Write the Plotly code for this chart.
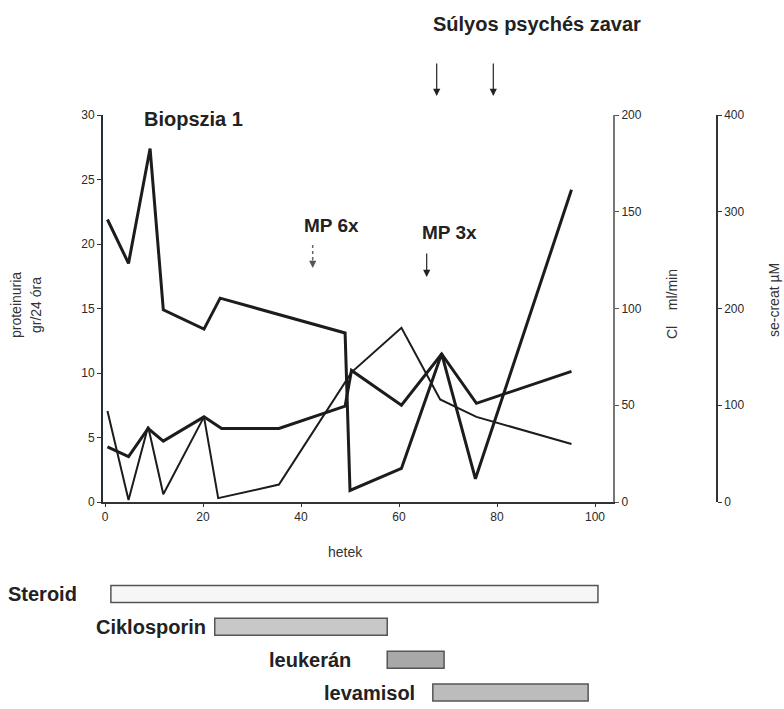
import plotly.graph_objects as go

# ---------------- data ----------------
weeks_protein = [0.5, 4.8, 9.2, 11.9, 20.2, 23.5, 49.0, 50.0, 60.5, 68.7, 75.6, 95.2]
proteinuria = [21.9, 18.5, 27.4, 14.9, 13.4, 15.8, 13.1, 0.9, 2.6, 11.5, 1.8, 24.2]   # gr/24 óra

weeks_clearance = [0.5, 4.8, 8.8, 11.9, 20.2, 23.1, 35.5, 50.3, 60.5, 68.4, 75.8, 95.2]
clearance = [47, 1, 39, 4, 44, 2, 9, 67, 90, 53, 44, 30]                               # ml/min

weeks_creat = [0.5, 4.8, 8.8, 11.9, 20.2, 23.8, 35.5, 49.0, 50.3, 60.5, 68.7, 75.8, 95.2]
creatinine = [57, 47, 76, 63, 88, 76, 76, 99, 136, 100, 153, 102, 135]                # µM

x_ticks = [0, 20, 40, 60, 80, 100]
y_ticks = [0, 5, 10, 15, 20, 25, 30]
y2_ticks = [0, 50, 100, 150, 200]
y3_ticks = [0, 100, 200, 300, 400]

therapy_names = ["Steroid", "Ciklosporin", "leukerán", "levamisol"]
therapy_start = [1.2, 22.4, 57.6, 66.9]
therapy_end = [100.6, 57.6, 69.2, 98.6]

# ---------------- layout geometry ----------------
W, H = 784, 709
L, R, T, B = 103, 67, 115, 0
PW, PH = W - L - R, H - T - B


def px(x):
    return (x - L) / PW


def py(y):
    return (H - B - y) / PH


PX_PER_WEEK = 4.9
X0_PX = 105
x_range = [(L - X0_PX) / PX_PER_WEEK, (613 - X0_PX) / PX_PER_WEEK]
main_dom = [py(502), 1]
gantt_dom = [0, py(577.5)]

INK = "#1c1c1c"
FONT = "Liberation Sans, Arial, sans-serif"

fig = go.Figure()

fig.add_trace(go.Scatter(x=weeks_protein, y=proteinuria, mode="lines",
                         line=dict(color=INK, width=3), xaxis="x", yaxis="y"))
fig.add_trace(go.Scatter(x=weeks_clearance, y=clearance, mode="lines",
                         line=dict(color=INK, width=2), xaxis="x", yaxis="y2"))
fig.add_trace(go.Scatter(x=weeks_creat, y=creatinine, mode="lines",
                         line=dict(color=INK, width=3), xaxis="x", yaxis="y3"))

# therapy bars
fig.add_trace(go.Bar(
    y=list(range(len(therapy_names))),
    x=[e - s for s, e in zip(therapy_start, therapy_end)],
    base=therapy_start, orientation="h", width=0.52,
    marker=dict(color=["#f6f6f6", "#c8c8c8", "#a8a8a8", "#bcbcbc"],
                line=dict(color="#555555", width=1.5)),
    xaxis="x2", yaxis="y4"))

tick_font = dict(family=FONT, size=12, color="#2a2a2a")
fig.update_layout(
    width=W, height=H, margin=dict(l=L, r=R, t=T, b=B, autoexpand=False),
    paper_bgcolor="white", plot_bgcolor="white", showlegend=False,
    xaxis=dict(domain=[0, px(613)], range=x_range, anchor="y", tickvals=x_ticks,
               showline=True, linecolor="#333333", linewidth=2, ticks="outside",
               ticklen=3, tickcolor="#333333", showgrid=False, zeroline=False,
               tickfont=tick_font, automargin=False),
    yaxis=dict(domain=main_dom, range=[0, 30], anchor="x", tickvals=y_ticks,
               showline=True, linecolor="#23303a", linewidth=2, ticks="outside",
               ticklen=4, tickcolor="#333333", showgrid=False, zeroline=False,
               tickfont=tick_font, automargin=False),
    yaxis2=dict(domain=main_dom, range=[0, 200], overlaying="y", side="right",
                anchor="x", tickvals=y2_ticks, showline=True, linecolor="#777777",
                linewidth=2, ticks="outside", ticklen=4, tickcolor="#555555",
                showgrid=False, zeroline=False, tickfont=tick_font, automargin=False),
    yaxis3=dict(domain=main_dom, range=[0, 400], overlaying="y", side="right",
                anchor="free", position=1.0, tickvals=y3_ticks, showline=True,
                linecolor="#333333", linewidth=1.5, ticks="outside", ticklen=4,
                tickcolor="#333333", showgrid=False, zeroline=False,
                tickfont=tick_font, automargin=False),
    xaxis2=dict(domain=[0, px(613)], range=x_range, anchor="y4", visible=False,
                automargin=False),
    yaxis4=dict(domain=gantt_dom, range=[3.5, -0.5], anchor="x2", visible=False,
                automargin=False),
)

ann = []
bold = dict(family=FONT, size=20, color="#222222")
title_font = dict(family=FONT, size=14, color="#333333")


def text(t, x, y, font, angle=0, xanchor="center"):
    ann.append(dict(text=t, x=px(x), y=py(y), xref="paper", yref="paper",
                    showarrow=False, font=font, textangle=angle,
                    xanchor=xanchor, yanchor="middle"))


def arrow(x, y_tail, y_tip, color="#222222"):
    ann.append(dict(text="", x=px(x), y=py(y_tip), xref="paper", yref="paper",
                    showarrow=True, ax=0, ay=-(y_tip - y_tail), arrowhead=2,
                    arrowsize=1.2, arrowwidth=1.2, arrowcolor=color))


text("<b>Biopszia 1</b>", 193, 119, bold)
text("<b>MP 6x</b>", 331, 225, dict(family=FONT, size=19, color="#222222"))
# dotted shaft + small head for the MP 6x arrow
fig.add_shape(type="line", xref="paper", yref="paper", x0=px(312.7), x1=px(312.7),
              y0=py(245), y1=py(261), line=dict(color="#666666", width=1.5, dash="dot"))
arrow(312.7, 259, 268, color="#555555")
text("<b>MP 3x</b>", 449, 232, dict(family=FONT, size=19, color="#222222"))
arrow(426.7, 252, 277)
text("<b>Súlyos psychés zavar</b>", 537, 24, bold)
arrow(436.7, 62, 96)
arrow(493.3, 62, 96)

text("proteinuria", 16, 305, title_font, angle=-90)
text("gr/24 óra", 36, 305, title_font, angle=-90)
text("Cl    ml/min", 672, 304, title_font, angle=-90)
text("se-creat µM", 774, 300, title_font, angle=-90)
text("hetek", 345, 552, title_font)

# therapy labels: centres (px) to the left of each bar
label_center_px = [42, 151, 310, 369]
row_px0, row_step = 594, 33
for i, name in enumerate(therapy_names):
    text("<b>%s</b>" % name, label_center_px[i], row_px0 + row_step * i, bold)

fig.update_layout(annotations=ann)
fig.write_html("out.html", config={"displayModeBar": False},
               post_script="document.body.style.margin='0px';")
